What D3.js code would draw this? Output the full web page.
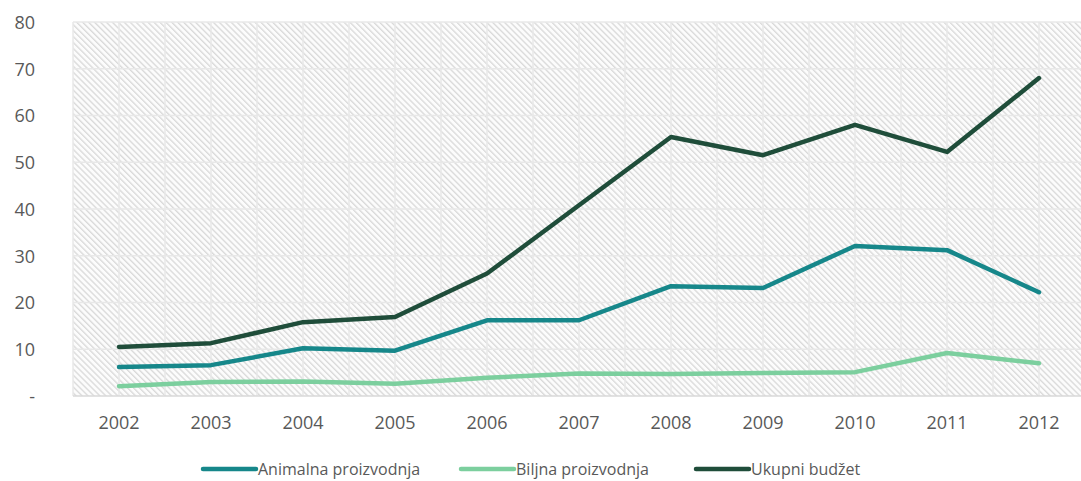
<!DOCTYPE html>
<html><head><meta charset="utf-8">
<script src="https://cdn.jsdelivr.net/npm/d3@7"></script>
<style>body{margin:0;background:#fff}svg{display:block}text{font-family:"Open Sans",sans-serif;fill:#595959}</style>
</head><body><svg id="c" width="1081" height="481"></svg>
<script>
const years = ["2002","2003","2004","2005","2006","2007","2008","2009","2010","2011","2012"];
const animalna = [6.2, 6.6, 10.2, 9.7, 16.2, 16.2, 23.5, 23.1, 32.1, 31.2, 22.2];
const biljna = [2.1, 3.0, 3.1, 2.6, 3.9, 4.8, 4.7, 4.9, 5.1, 9.2, 7.0];
const ukupni = [10.5, 11.3, 15.8, 16.9, 26.2, 40.8, 55.4, 51.5, 58.0, 52.2, 68.0];
const yTicks = [0,10,20,30,40,50,60,70,80];
const seriesNames = ["Animalna proizvodnja","Biljna proizvodnja","Ukupni budžet"];
const seriesColors = ["#16878a","#7ccf9e","#1f4d3a"];

(function(){
const svg = d3.select("#c");
const pL = 73, pR = 1085, pT = 22, pB = 396;
const x = d3.scaleBand().domain(years).range([pL, pR]);
const y = d3.scaleLinear().domain([0,80]).range([pB, pT]);

const defs = svg.append("defs");
const pat = defs.append("pattern").attr("id","hatch").attr("patternUnits","userSpaceOnUse")
  .attr("width",4.2).attr("height",4.2).attr("patternTransform","rotate(-45)");
pat.append("rect").attr("width",4.2).attr("height",4.2).attr("fill","#fcfcfc");
pat.append("line").attr("x1",0.7).attr("y1",0).attr("x2",0.7).attr("y2",4.2).attr("stroke","#d8d8d8").attr("stroke-width",1.3);

svg.append("rect").attr("x",pL).attr("y",pT).attr("width",pR-pL).attr("height",pB-pT).attr("fill","url(#hatch)");

const vx = [];
years.forEach(d => { vx.push(x(d)); vx.push(x(d)+x.bandwidth()/2); });
vx.push(pR);
svg.append("g").selectAll("line").data(vx).join("line")
  .attr("x1",d=>d).attr("x2",d=>d).attr("y1",pT).attr("y2",pB)
  .attr("stroke","#e8e8e8").attr("stroke-width",1.5);

svg.append("g").selectAll("line").data(yTicks).join("line")
  .attr("x1",pL).attr("x2",pR).attr("y1",d=>y(d)).attr("y2",d=>y(d))
  .attr("stroke",d=>d===0?"#d9d9d9":"#e8e8e8").attr("stroke-width",1.5);

const yAxis = d3.axisLeft(y).tickValues(yTicks).tickSize(0).tickPadding(0)
  .tickFormat(d => d===0 ? "-" : d);
const gy = svg.append("g").attr("transform","translate(35,0)").call(yAxis);
gy.select(".domain").remove();
gy.selectAll("text").style("font-size","18px").attr("fill","#595959").attr("font-family","Open Sans").attr("dy","0.35em");

const xAxis = d3.axisBottom(x).tickSize(0).tickPadding(0);
const gx = svg.append("g").attr("transform","translate(0,422.5)").call(xAxis);
gx.select(".domain").remove();
gx.selectAll("text").style("font-size","18px").attr("fill","#595959").attr("font-family","Open Sans").attr("y",0).attr("dy","0.36em");

const cx = d => x(d) + x.bandwidth()/2;
const line = d3.line().x((d,i)=>cx(years[i])).y(d=>y(d));
[animalna, biljna, ukupni].forEach((s,i) => {
  svg.append("path").datum(s).attr("d",line).attr("fill","none")
    .attr("stroke",seriesColors[i]).attr("stroke-width",4.5)
    .attr("stroke-linejoin","round").attr("stroke-linecap","round");
});

const legX = [202, 460, 695];
const lg = svg.append("g");
seriesNames.forEach((n,i) => {
  lg.append("line").attr("x1",legX[i]+1).attr("x2",legX[i]+54).attr("y1",469).attr("y2",469)
    .attr("stroke",seriesColors[i]).attr("stroke-width",4.5).attr("stroke-linecap","round");
  lg.append("text").attr("x",legX[i]+56).attr("y",469).attr("dy","0.35em")
    .style("font-size","16px").text(n);
});
})();
</script></body></html>
